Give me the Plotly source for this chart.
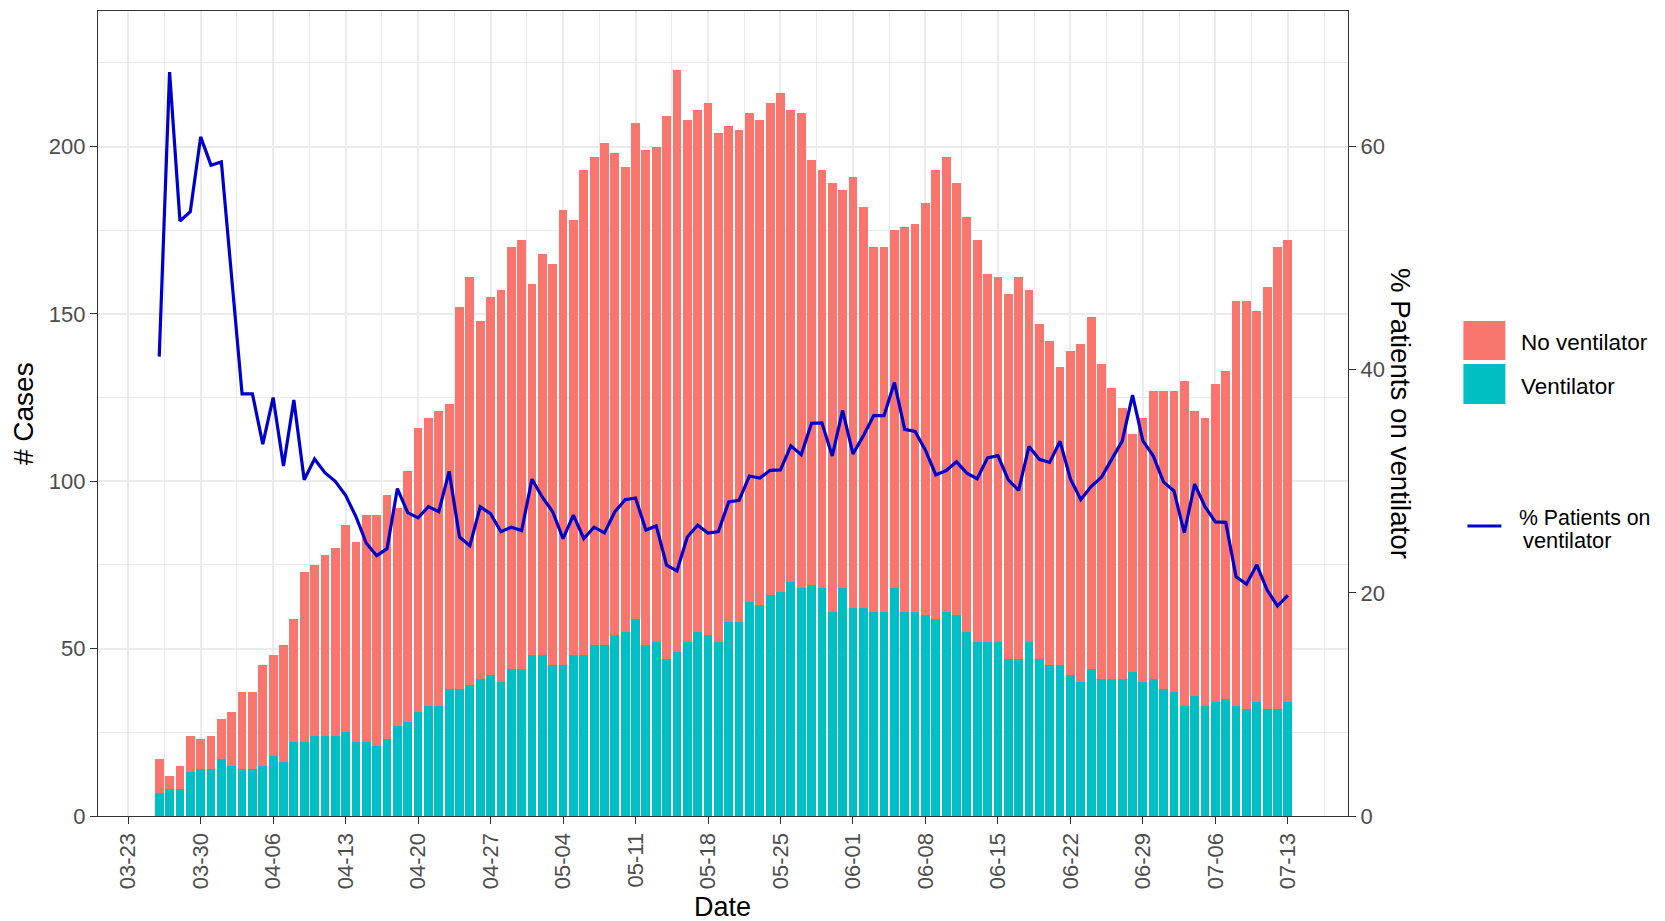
import plotly.graph_objects as go
import pandas as pd

# ---------------- data ----------------
dates = pd.date_range("2020-03-26", "2020-07-13", freq="D")

ventilator = [
    7, 8, 8, 13, 14, 14, 17, 15, 14, 14,
    15, 18, 16, 22, 22, 24, 24, 24, 25, 22,
    22, 21, 23, 27, 28, 31, 33, 33, 38, 38,
    39, 41, 42, 40, 44, 44, 48, 48, 45, 45,
    48, 48, 51, 51, 54, 55, 59, 51, 52, 47,
    49, 52, 55, 54, 52, 58, 58, 64, 63, 66,
    67, 70, 68, 69, 68, 61, 68, 62, 62, 61,
    61, 68, 61, 61, 60, 59, 61, 60, 55, 52,
    52, 52, 47, 47, 52, 47, 45, 45, 42, 40,
    44, 41, 41, 41, 43, 40, 41, 38, 37, 33,
    36, 33, 34, 35, 33, 32, 34, 32, 32, 34,
]

total_cases = [
    17, 12, 15, 24, 23, 24, 29, 31, 37, 37,
    45, 48, 51, 59, 73, 75, 78, 80, 87, 82,
    90, 90, 96, 92, 103, 116, 119, 121, 123, 152,
    161, 148, 155, 157, 170, 172, 159, 168, 165, 181,
    178, 193, 197, 201, 198, 194, 207, 199, 200, 209,
    223, 208, 211, 213, 204, 206, 205, 210, 208, 213,
    216, 211, 210, 196, 193, 189, 187, 191, 182, 170,
    170, 175, 176, 177, 183, 193, 197, 189, 179, 172,
    162, 161, 156, 161, 157, 147, 142, 134, 139, 141,
    149, 135, 128, 122, 114, 119, 127, 127, 127, 130,
    121, 119, 129, 133, 154, 154, 151, 158, 170, 172,
]

no_ventilator = [t - v for t, v in zip(total_cases, ventilator)]
pct_ventilator = [100.0 * v / t for v, t in zip(ventilator, total_cases)]

x_ticks_start = "2020-03-23"
y_left_ticks = [0, 50, 100, 150, 200]
y_right_ticks = [0, 20, 40, 60]

# ---------------- styling ----------------
OFF = 8                      # page body margin of the html page
W, H = 1665 - OFF, 921 - OFF
# plot area in screen pixels: x 97.5..1348.5, y 11..816
L = 97.5 - OFF
T = 11 - OFF
R = 1665 - 1348.5
B = 921 - 816
PW, PH = W - L - R, H - T - B
DAY = 86400000

C_NO = "#F8766D"
C_VENT = "#00BFC4"
C_LINE = "#0000CD"
GRID = "#EBEBEB"
AX = "#333333"
TICKC = "#4D4D4D"
FONT = "Liberation Sans, Arial, sans-serif"


def px_x(px):
    """screen pixel x -> paper x"""
    return (px - OFF - L) / PW


def px_y(py):
    """screen pixel y -> paper y"""
    return (T + PH - (py - OFF)) / PH


fig = go.Figure()
fig.add_trace(go.Bar(x=dates, y=ventilator, name="Ventilator",
                     marker=dict(color=C_VENT, line=dict(width=0)),
                     width=0.85 * DAY, showlegend=False))
fig.add_trace(go.Bar(x=dates, y=no_ventilator, name="No ventilator",
                     marker=dict(color=C_NO, line=dict(width=0)),
                     width=0.85 * DAY, showlegend=False))
fig.add_trace(go.Scatter(x=dates, y=pct_ventilator, yaxis="y2", mode="lines",
                         name="% Patients on ventilator",
                         line=dict(color=C_LINE, width=3.2), showlegend=False))

x_range = ["2020-03-20 02:04", "2020-07-18 19:26"]
y_top = 240.5

fig.update_layout(
    width=W, height=H, autosize=False,
    margin=dict(l=L, r=R, t=T, b=B, pad=0),
    paper_bgcolor="white", plot_bgcolor="white",
    barmode="stack", bargap=0,
    font=dict(family=FONT, color="black"),
    xaxis=dict(
        type="date", range=x_range,
        tickmode="linear", tick0=x_ticks_start, dtick=7 * DAY,
        tickformat="%m-%d", tickangle=-90,
        ticks="outside", ticklen=7, tickwidth=1.2, tickcolor=AX,
        tickfont=dict(size=22, color=TICKC, family=FONT),
        showgrid=True, gridcolor=GRID, gridwidth=1.8,
        minor=dict(tick0=x_ticks_start, dtick=3.5 * DAY, showgrid=True,
                   gridcolor=GRID, gridwidth=1.2, ticks=""),
        showline=True, linecolor=AX, linewidth=1.3, mirror=True,
        zeroline=False, automargin=False,
    ),
    yaxis=dict(
        range=[0, y_top], tickmode="array", tickvals=y_left_ticks,
        ticks="outside", ticklen=7, tickwidth=1.2, tickcolor=AX,
        tickfont=dict(size=22, color=TICKC, family=FONT),
        showgrid=True, gridcolor=GRID, gridwidth=1.8,
        minor=dict(dtick=25, tick0=0, showgrid=True, gridcolor=GRID,
                   gridwidth=1.2, ticks=""),
        showline=True, linecolor=AX, linewidth=1.3, mirror=True,
        zeroline=False, automargin=False,
    ),
    yaxis2=dict(
        overlaying="y", side="right", range=[0, y_top * 0.3],
        tickmode="array", tickvals=y_right_ticks,
        ticks="outside", ticklen=7, tickwidth=1.2, tickcolor=AX,
        tickfont=dict(size=22, color=TICKC, family=FONT),
        showgrid=False, showline=False, zeroline=False, automargin=False,
    ),
)

annotations = [
    dict(text="Date", x=px_x(722), y=px_y(907), xref="paper", yref="paper",
         xanchor="center", yanchor="middle", showarrow=False,
         font=dict(size=27, color="black", family=FONT)),
    dict(text="# Cases", x=px_x(23), y=0.5, xref="paper", yref="paper",
         xanchor="center", yanchor="middle", textangle=-90, showarrow=False,
         font=dict(size=28, color="black", family=FONT)),
    dict(text="% Patients on ventilator", x=px_x(1401), y=0.5,
         xref="paper", yref="paper", xanchor="center", yanchor="middle",
         textangle=90, showarrow=False,
         font=dict(size=27.7, color="black", family=FONT)),
    dict(text="No ventilator", x=px_x(1520), y=px_y(342), xref="paper",
         yref="paper", xanchor="left", yanchor="middle", showarrow=False,
         font=dict(size=22.5, color="black", family=FONT)),
    dict(text="Ventilator", x=px_x(1520), y=px_y(386), xref="paper",
         yref="paper", xanchor="left", yanchor="middle", showarrow=False,
         font=dict(size=22.5, color="black", family=FONT)),
    dict(text="% Patients on", x=px_x(1519), y=px_y(518), xref="paper",
         yref="paper", xanchor="left", yanchor="middle", showarrow=False,
         borderpad=0,
         font=dict(size=21.3, color="black", family=FONT)),
    dict(text="ventilator", x=px_x(1523), y=px_y(540), xref="paper",
         yref="paper", xanchor="left", yanchor="middle", showarrow=False,
         borderpad=0,
         font=dict(size=21.8, color="black", family=FONT)),
]
fig.update_layout(annotations=annotations)

shapes = [
    dict(type="rect", xref="paper", yref="paper",
         x0=px_x(1464), x1=px_x(1506), y0=px_y(360), y1=px_y(321),
         fillcolor=C_NO, line=dict(width=0)),
    dict(type="rect", xref="paper", yref="paper",
         x0=px_x(1464), x1=px_x(1506), y0=px_y(404), y1=px_y(364),
         fillcolor=C_VENT, line=dict(width=0)),
    dict(type="line", xref="paper", yref="paper",
         x0=px_x(1468), x1=px_x(1502), y0=px_y(526), y1=px_y(526),
         line=dict(color=C_LINE, width=3)),
]
fig.update_layout(shapes=shapes)

fig.write_html("out.html")
